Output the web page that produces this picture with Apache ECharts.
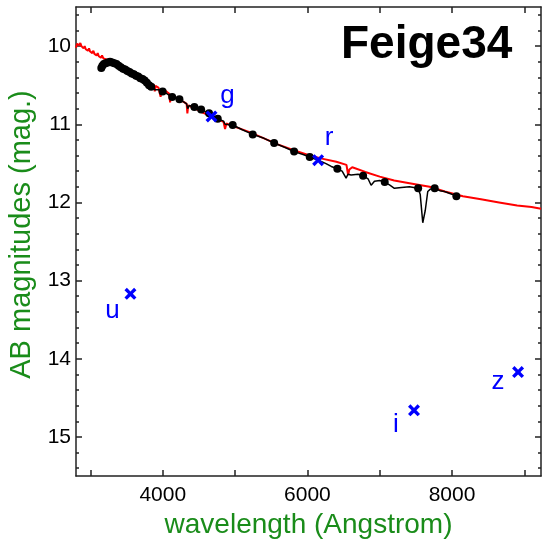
<!DOCTYPE html>
<html><head><meta charset="utf-8">
<script src="https://cdn.jsdelivr.net/npm/echarts@6/dist/echarts.min.js"></script>
<style>html,body{margin:0;padding:0;background:#fff}#c{width:544px;height:539px}</style>
</head><body><div id="c"></div>
<script>
// ---- data ----
const modelWave = [2800,2815,2830,2845,2860,2875,2890,2905,2920,2935,2950,2965,2980,2995,3010,3025,3040,3055,3070,3085,3100,3115,3130,3145,3160,3180,3200,3225,3250,3280,3320,3400,3500,3600,3700,3790,3830,3880,3889,3900,3940,3970,3985,4050,4090,4101,4115,4200,4300,4330,4340,4352,4450,4550,4650,4750,4840,4861,4880,4950,5050,5200,5400,5600,5800,6000,6200,6400,6540,6563,6580,6620,6800,7000,7200,7450,7690,7900,8150,8400,8650,8900,9100,9230];
const modelMag = [10.02,9.97,9.96,9.99,9.96,10.00,9.99,10.03,10.00,10.04,10.02,10.06,10.03,10.07,10.05,10.09,10.06,10.10,10.08,10.12,10.09,10.13,10.11,10.15,10.12,10.16,10.14,10.17,10.16,10.18,10.20,10.24,10.29,10.35,10.41,10.46,10.48,10.50,10.58,10.51,10.53,10.65,10.55,10.58,10.61,10.72,10.63,10.67,10.72,10.74,10.86,10.76,10.80,10.85,10.89,10.93,10.97,11.06,10.99,11.02,11.05,11.10,11.18,11.26,11.33,11.39,11.44,11.48,11.52,11.65,11.58,11.55,11.61,11.67,11.72,11.76,11.80,11.86,11.92,11.96,12.00,12.04,12.06,12.08];

const obsWave = [3150,3165,3185,3210,3240,3270,3300,3330,3360,3390,3420,3450,3480,3510,3540,3570,3600,3630,3660,3690,3720,3750,3780,3810,3840,3870,3890,3910,3950,3970,3990,4040,4090,4105,4130,4230,4300,4330,4345,4365,4437,4530,4640,4760,4840,4862,4880,4967,5100,5244,5400,5540,5700,5816,5950,6032,6150,6250,6330,6414,6480,6535,6560,6604,6700,6770,6840,6881,6927,7000,7069,7140,7203,7300,7410,7531,7560,7595,7630,7664,7700,7760,7830,7895,7980,8060];
const obsMag = [10.28,10.25,10.23,10.22,10.21,10.20,10.21,10.22,10.23,10.25,10.27,10.29,10.30,10.32,10.33,10.35,10.36,10.38,10.39,10.41,10.42,10.44,10.47,10.50,10.52,10.53,10.56,10.54,10.56,10.61,10.58,10.60,10.63,10.68,10.65,10.68,10.72,10.74,10.80,10.76,10.78,10.81,10.86,10.93,10.96,11.00,10.98,11.01,11.07,11.13,11.18,11.24,11.30,11.35,11.39,11.42,11.46,11.50,11.54,11.57,11.60,11.69,11.64,11.65,11.64,11.66,11.70,11.78,11.73,11.72,11.74,11.78,11.82,11.81,11.80,11.82,11.90,12.26,12.10,11.86,11.83,11.82,11.85,11.86,11.89,11.92];

const dotWave = [3150,3165,3185,3210,3240,3270,3300,3330,3360,3390,3420,3450,3480,3510,3540,3570,3600,3630,3660,3690,3720,3750,3780,3810,3840,3998,4130,4230,4437,4530,4640,4760,4967,5244,5540,5816,6032,6414,6770,7069,7531,7760,8060];
const dotMag  = [10.28,10.25,10.23,10.22,10.21,10.20,10.21,10.22,10.23,10.25,10.27,10.29,10.30,10.32,10.33,10.35,10.36,10.38,10.39,10.41,10.42,10.44,10.47,10.50,10.52,10.58,10.65,10.68,10.78,10.81,10.86,10.93,11.01,11.13,11.24,11.35,11.42,11.57,11.66,11.74,11.82,11.82,11.92];

const bandNames = ['u','g','r','i','z'];
const bandWave = [3553,4674,6148,7474,8913];
const bandMag  = [13.17,10.90,11.46,14.66,14.17];

const xTickValues = [3000,4000,5000,6000,7000,8000,9000];
const xLabelValues = [4000,6000,8000];
const yTickValues = [10,11,12,13,14,15];
const yMinorValues = [9.6,9.8,10.2,10.4,10.6,10.8,11.2,11.4,11.6,11.8,12.2,12.4,12.6,12.8,13.2,13.4,13.6,13.8,14.2,14.4,14.6,14.8,15.2,15.4];

// ---- styles ----
const FONT = "'Liberation Sans', Arial, sans-serif";
const GREEN = '#1a8c1a';
const AXIS = '#222';
const X_MIN = 2800, X_MAX = 9230, Y_MIN = 9.5, Y_MAX = 15.5;
const labelOffsets = { u:[-18,17], g:[16,-21], r:[11,-22], i:[-18,14], z:[-20,10] };
const crossPath = 'path://M0,2L2,0L5,3L8,0L10,2L7,5L10,8L8,10L5,7L2,10L0,8L3,5Z';

const gridPos = { left:76, right:3, top:7, bottom:63, outerBoundsMode:'none' };
const lineStyle = { color: AXIS, width: 1.5 };

function xAx(grid, pos, opts) {
  return Object.assign({
    gridIndex: grid, type:'value', min:X_MIN, max:X_MAX, position:pos,
    axisLine:{ show:true, onZero:false, lineStyle },
    axisTick:{ show:true, inside:true, length:6, customValues:xTickValues, lineStyle },
    axisLabel:{ show:false },
    splitLine:{ show:false }
  }, opts || {});
}
function yAx(grid, pos, opts) {
  return Object.assign({
    gridIndex: grid, type:'value', min:Y_MIN, max:Y_MAX, inverse:true, position:pos,
    axisLine:{ show:true, onZero:false, lineStyle },
    axisTick:{ show:true, inside:true, length:6, customValues:yTickValues, lineStyle },
    axisLabel:{ show:false },
    splitLine:{ show:false }
  }, opts || {});
}

const chart = echarts.init(document.getElementById('c'), null, { renderer:'canvas' });
chart.setOption({
  animation:false,
  backgroundColor:'#fff',
  title:{ text:'Feige34', left:336, top:17,
    textStyle:{ fontSize:46, fontWeight:'bold', color:'#000', fontFamily:FONT } },
  grid:[ Object.assign({}, gridPos), Object.assign({}, gridPos) ],
  xAxis:[
    xAx(0,'bottom',{
      axisLabel:{ show:true, customValues:xLabelValues, fontSize:21, color:'#000', fontFamily:FONT, margin:9,
        formatter:(v)=>String(v) },
      name:'wavelength (Angstrom)', nameLocation:'middle', nameGap:30,
      nameTextStyle:{ color:GREEN, fontSize:28, fontFamily:FONT }
    }),
    xAx(0,'top'),
    xAx(1,'bottom',{ show:false })
  ],
  yAxis:[
    yAx(0,'left',{
      axisLabel:{ show:true, customValues:yTickValues, fontSize:21, color:'#000', fontFamily:FONT, margin:5,
        formatter:(v)=>String(v) },
      name:'AB magnitudes (mag.)', nameLocation:'middle', nameGap:34, nameRotate:90,
      nameTextStyle:{ color:GREEN, fontSize:29, fontFamily:FONT, padding:[0,0,0,14] }
    }),
    yAx(0,'right'),
    yAx(1,'left',{ axisLine:{show:false}, axisTick:{ show:true, inside:true, length:3, customValues:yMinorValues, lineStyle } }),
    yAx(1,'right',{ axisLine:{show:false}, axisTick:{ show:true, inside:true, length:3, customValues:yMinorValues, lineStyle } })
  ],
  series:[
    { type:'line', xAxisIndex:0, yAxisIndex:0, showSymbol:false, z:2,
      data: modelWave.map((w,i)=>[w, modelMag[i]]),
      lineStyle:{ color:'#ff0000', width:2 } },
    { type:'line', xAxisIndex:0, yAxisIndex:0, showSymbol:false, z:3,
      data: obsWave.map((w,i)=>[w, obsMag[i]]),
      lineStyle:{ color:'#000', width:1.5 } },
    { type:'scatter', xAxisIndex:0, yAxisIndex:0, z:4, symbol:'circle', symbolSize:8,
      data: dotWave.map((w,i)=>[w, dotMag[i]]),
      itemStyle:{ color:'#000', opacity:1 } },
    { type:'scatter', xAxisIndex:0, yAxisIndex:0, z:5, symbol:crossPath, symbolSize:12,
      itemStyle:{ color:'#0000ff', opacity:1 },
      label:{ show:true, position:'inside', formatter:'{b}', color:'#0000ff', fontSize:26, fontFamily:FONT },
      data: bandWave.map((w,i)=>({ name:bandNames[i], value:[w, bandMag[i]],
        label:{ offset: labelOffsets[bandNames[i]] } })) }
  ]
});
</script>
</body></html>
